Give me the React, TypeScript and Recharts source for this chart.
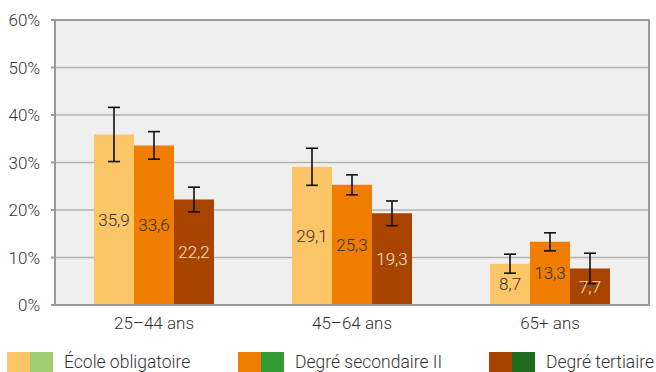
import React from "react";
import {
  BarChart,
  Bar,
  XAxis,
  YAxis,
  CartesianGrid,
  ErrorBar,
  LabelList,
  Legend,
  ReferenceArea,
} from "recharts";

const AGE_GROUPS = ["25–44 ans", "45–64 ans", "65+ ans"];
const OBLIGATOIRE = [35.9, 29.1, 8.7];
const SECONDAIRE = [33.6, 25.3, 13.3];
const TERTIAIRE = [22.2, 19.3, 7.7];
const ERR_OBLIGATOIRE = [5.7, 3.9, 2.0];
const ERR_SECONDAIRE = [2.9, 2.1, 1.9];
const ERR_TERTIAIRE = [2.6, 2.6, 3.2];
const Y_TICKS = [0, 10, 20, 30, 40, 50, 60];

const SERIES = [
  { key: "obl", err: "errObl", name: "École obligatoire", color: "#fcc566", alt: "#a2cc70", text: "#333" },
  { key: "sec", err: "errSec", name: "Degré secondaire II", color: "#f07d00", alt: "#339933", text: "#333" },
  { key: "ter", err: "errTer", name: "Degré tertiaire", color: "#a84400", alt: "#1e6b1e", text: "#f2e6dc" },
];

const data = AGE_GROUPS.map((g, i) => ({
  group: g,
  obl: OBLIGATOIRE[i],
  sec: SECONDAIRE[i],
  ter: TERTIAIRE[i],
  errObl: ERR_OBLIGATOIRE[i],
  errSec: ERR_SECONDAIRE[i],
  errTer: ERR_TERTIAIRE[i],
}));

const LEGEND_X = [7, 238, 489];

function renderLegend() {
  return (
    <div style={{ position: "relative", width: 656, height: 32, overflow: "hidden" }}>
      {SERIES.map((s, i) => (
        <div key={s.key} style={{ position: "absolute", left: LEGEND_X[i], top: 12, display: "flex", alignItems: "center" }}>
          <div style={{ width: 23, height: 20, background: s.color }} />
          <div style={{ width: 23, height: 20, background: s.alt }} />
          <span style={{ marginLeft: 11, fontSize: 17.5, color: "#333", whiteSpace: "nowrap", lineHeight: "20px" }}>
            {s.name}
          </span>
        </div>
      ))}
    </div>
  );
}

const fmt = (v: number) => v.toFixed(1).replace(".", ",");

export default function App() {
  return (
    <div style={{ position: "absolute", left: 0, top: 0, fontFamily: "Roboto", fontWeight: 300 }}>
      <BarChart
        width={656}
        height={372}
        data={data}
        margin={{ top: 20, right: 7, left: 0, bottom: 0 }}
        barGap={0}
      >
        <CartesianGrid vertical={false} fill="#efefef" stroke="#b4b4b4" strokeWidth={1.5} />
        <ReferenceArea y1={0} y2={60} fill="none" stroke="#9a9a9a" strokeWidth={2} ifOverflow="visible" />
        <XAxis
          dataKey="group"
          tickLine={false}
          axisLine={{ stroke: "#9a9a9a", strokeWidth: 2 }}
          tickSize={0}
          tickMargin={12}
          height={35}
          tick={{ fontSize: 17, fill: "#333" }}
        />
        <YAxis
          domain={[0, 60]}
          ticks={Y_TICKS}
          tickFormatter={(v) => `${v}%`}
          width={55}
          tickSize={4}
          tickMargin={11}
          axisLine={{ stroke: "#9a9a9a", strokeWidth: 2 }}
          tickLine={{ stroke: "#9a9a9a", strokeWidth: 2 }}
          tick={{ fontSize: 17, fill: "#333" }}
        />
        <Legend verticalAlign="bottom" height={32} content={renderLegend} wrapperStyle={{ left: 0, width: 656 }} />
        {SERIES.map((s) => (
          <Bar key={s.key} dataKey={s.key} name={s.name} fill={s.color} barSize={40} isAnimationActive={false}>
            <ErrorBar dataKey={s.err} width={6} stroke="#111" strokeWidth={1.6} />
            <LabelList dataKey={s.key} position="center" formatter={fmt} fill={s.text} fontSize={17} />
          </Bar>
        ))}
      </BarChart>
    </div>
  );
}
